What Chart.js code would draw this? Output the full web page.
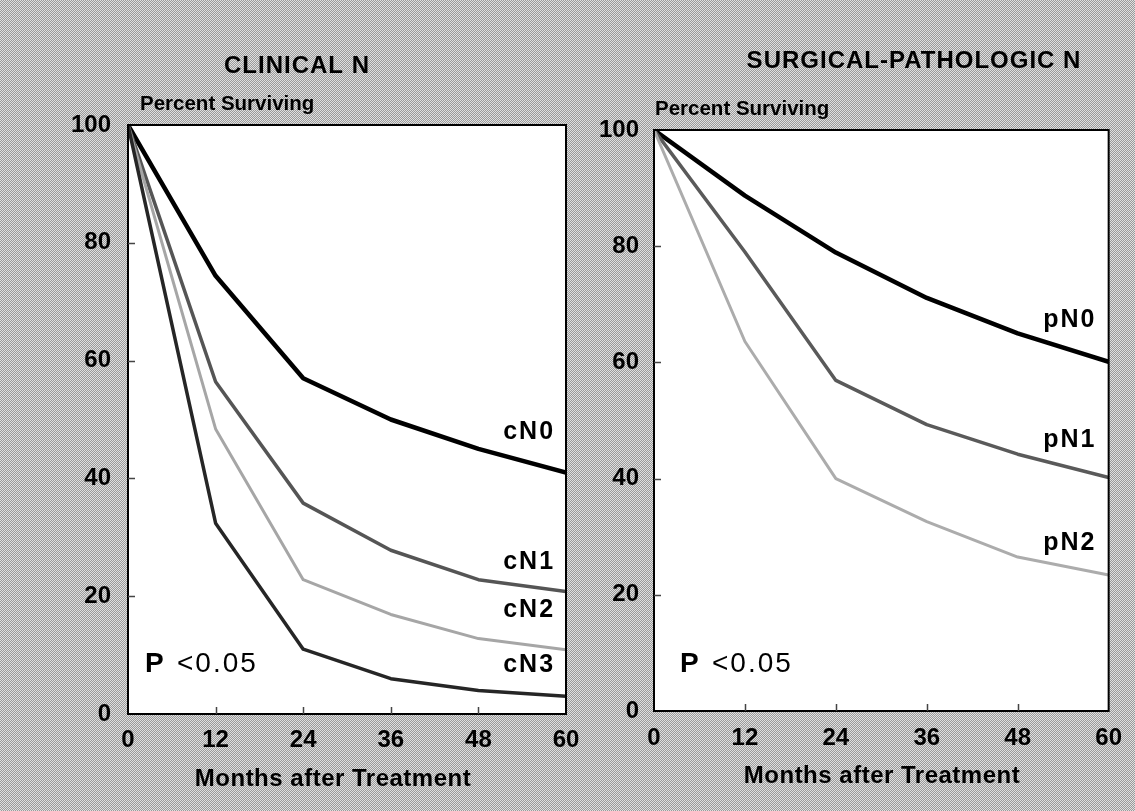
<!DOCTYPE html>
<html><head><meta charset="utf-8">
<script src="https://cdn.jsdelivr.net/npm/chart.js@4.4.0/dist/chart.umd.min.js"></script>
<style>
html,body{margin:0;padding:0;width:1135px;height:811px;overflow:hidden;}
body{background: repeating-conic-gradient(#9a9a9a 0 25%, #e0e0e0 0 50%) 0 0/2px 2px;}
#wrapA{position:absolute;left:0;top:0;width:594px;height:811px;}
#wrapB{position:absolute;left:594px;top:0;width:541px;height:811px;}
</style></head><body>
<div id="wrapA"><canvas id="cA"></canvas></div>
<div id="wrapB"><canvas id="cB"></canvas></div>
<script>
// ---- data ----
const months = [0, 12, 24, 36, 48, 60];
const xTickValues = [0, 12, 24, 36, 48, 60];
const yTickValues = [0, 20, 40, 60, 80, 100];
const cN0 = [100, 74.4, 57.0, 50.0, 45.0, 41.0];
const cN1 = [100, 56.4, 35.8, 27.8, 22.8, 20.8];
const cN2 = [100, 48.4, 22.8, 16.9, 12.8, 10.9];
const cN3 = [100, 32.4, 11.0, 6.0, 4.0, 3.0];
const pN0 = [100, 88.7, 78.9, 71.1, 65.0, 60.1];
const pN1 = [100, 79.0, 56.9, 49.3, 44.2, 40.2];
const pN2 = [100, 63.6, 40.0, 32.6, 26.5, 23.4];
const leftTitle = 'CLINICAL N';
const rightTitle = 'SURGICAL-PATHOLOGIC N';
const yAxisTitle = 'Percent Surviving';
const xAxisTitle = 'Months after Treatment';
const pText = ['P', '<0.05'];

const FONT = '"Liberation Sans", Arial, Helvetica, sans-serif';

function pts(vals) { return months.map((m, i) => ({x: m, y: vals[i]})); }

const decor = {
  id: 'decor',
  beforeDraw(chart, args, o) {
    const {ctx, chartArea: a} = chart;
    ctx.save();
    ctx.fillStyle = '#ffffff';
    ctx.fillRect(a.left, a.top, a.right - a.left, a.bottom - a.top);
    ctx.restore();
  },
  afterDraw(chart, args, o) {
    const {ctx, chartArea: a, scales} = chart;
    const xs = scales.x, ys = scales.y;
    ctx.save();
    // frame
    ctx.strokeStyle = '#000';
    ctx.lineWidth = 2;
    ctx.strokeRect(a.left, a.top, a.right - a.left, a.bottom - a.top);
    // inner tick marks
    ctx.lineWidth = 1.5;
    ctx.strokeStyle = '#444';
    ctx.beginPath();
    yTickValues.slice(1, -1).forEach(v => {
      const py = Math.round(ys.getPixelForValue(v)) + 0.5;
      ctx.moveTo(a.left, py); ctx.lineTo(a.left + 7, py);
    });
    xTickValues.slice(1, -1).forEach(v => {
      const px = Math.round(xs.getPixelForValue(v)) + 0.5;
      ctx.moveTo(px, a.bottom); ctx.lineTo(px, a.bottom - 7);
    });
    ctx.stroke();
    ctx.fillStyle = '#000';
    // panel title
    ctx.font = 'bold 24px ' + FONT;
    ctx.letterSpacing = '1px';
    ctx.textAlign = 'center';
    ctx.textBaseline = 'middle';
    ctx.fillText(o.title, o.titleX, o.titleY);
    // y axis title
    ctx.font = 'bold 20.5px ' + FONT;
    ctx.letterSpacing = '0px';
    ctx.textAlign = 'left';
    ctx.fillText(yAxisTitle, o.yTitleX, o.yTitleY);
    // x axis title
    ctx.font = 'bold 24px ' + FONT;
    ctx.letterSpacing = '0.5px';
    ctx.textAlign = 'center';
    ctx.fillText(xAxisTitle, o.xTitleX, o.xTitleY);
    // series labels
    ctx.font = 'bold 25px ' + FONT;
    ctx.letterSpacing = '2px';
    ctx.textAlign = 'right';
    o.labels.forEach(l => {
      ctx.fillText(l.text, xs.getPixelForValue(l.x), ys.getPixelForValue(l.y));
    });
    // P value
    ctx.textAlign = 'left';
    ctx.font = 'bold 28px ' + FONT;
    ctx.letterSpacing = '0px';
    ctx.fillText(pText[0], a.left + o.pX, o.pY);
    ctx.font = '28px ' + FONT;
    ctx.letterSpacing = '2px';
    ctx.fillText(pText[1], a.left + o.pX + 32, o.pY);
    ctx.restore();
  }
};

function makeChart(id, series, names, colors, widths, opts) {
  const datasets = series.map((s, i) => ({
    label: names[i],
    data: pts(s),
    borderColor: colors[i],
    borderWidth: widths[i],
    pointRadius: 0,
    tension: 0,
    fill: false,
    borderJoinStyle: 'round',
    borderCapStyle: 'round'
  })).reverse();
  return new Chart(document.getElementById(id), {
    type: 'line',
    data: {datasets},
    plugins: [decor],
    options: {
      responsive: true,
      maintainAspectRatio: false,
      animation: false,
      events: [],
      layout: {padding: opts.padding},
      plugins: {
        legend: {display: false},
        tooltip: {enabled: false},
        title: {display: false},
        decor: opts.decor
      },
      scales: {
        x: {
          type: 'linear', min: 0, max: 60,
          afterBuildTicks: s => { s.ticks = xTickValues.map(v => ({value: v})); },
          afterFit: s => { s.height = opts.xH; },
          grid: {display: false, drawTicks: false},
          border: {display: false},
          ticks: {color: '#000', font: {family: FONT, size: 24, weight: 'bold'}, padding: opts.xPad, maxRotation: 0, autoSkip: false}
        },
        y: {
          type: 'linear', min: 0, max: 100,
          afterBuildTicks: s => { s.ticks = yTickValues.map(v => ({value: v})); },
          afterFit: s => { s.width = opts.yW; },
          grid: {display: false, drawTicks: false},
          border: {display: false},
          ticks: {color: '#000', font: {family: FONT, size: 24, weight: 'bold'}, padding: opts.yPad}
        }
      }
    }
  });
}

makeChart('cA', [cN0, cN1, cN2, cN3], ['cN0', 'cN1', 'cN2', 'cN3'],
  ['#000000', '#555555', '#a6a6a6', '#262626'], [4.5, 3.5, 3, 3.5], {
  padding: {top: 125, right: 28, left: 0, bottom: 0},
  xH: 97, yW: 128, xPad: 12, yPad: 17,
  decor: {
    title: leftTitle, titleX: 297, titleY: 66,
    yTitleX: 140, yTitleY: 104, xTitleX: 333, xTitleY: 779,
    pX: 17, pY: 664,
    labels: [
      {text: 'cN0', x: 58.5, y: 47.9},
      {text: 'cN1', x: 58.5, y: 25.8},
      {text: 'cN2', x: 58.5, y: 17.7},
      {text: 'cN3', x: 58.5, y: 8.3}
    ]
  }
});

makeChart('cB', [pN0, pN1, pN2], ['pN0', 'pN1', 'pN2'],
  ['#000000', '#5a5a5a', '#acacac'], [4.5, 3.5, 3], {
  padding: {top: 130, right: 23, left: 0, bottom: 0},
  xH: 100, yW: 60, xPad: 13, yPad: 15,
  decor: {
    title: rightTitle, titleX: 914 - 594, titleY: 61,
    yTitleX: 655 - 594, yTitleY: 109, xTitleX: 882 - 594, xTitleY: 776,
    pX: 26, pY: 664,
    labels: [
      {text: 'pN0', x: 58.4, y: 67.3},
      {text: 'pN1', x: 58.4, y: 46.6},
      {text: 'pN2', x: 58.4, y: 28.9}
    ]
  }
});
</script>
</body></html>
